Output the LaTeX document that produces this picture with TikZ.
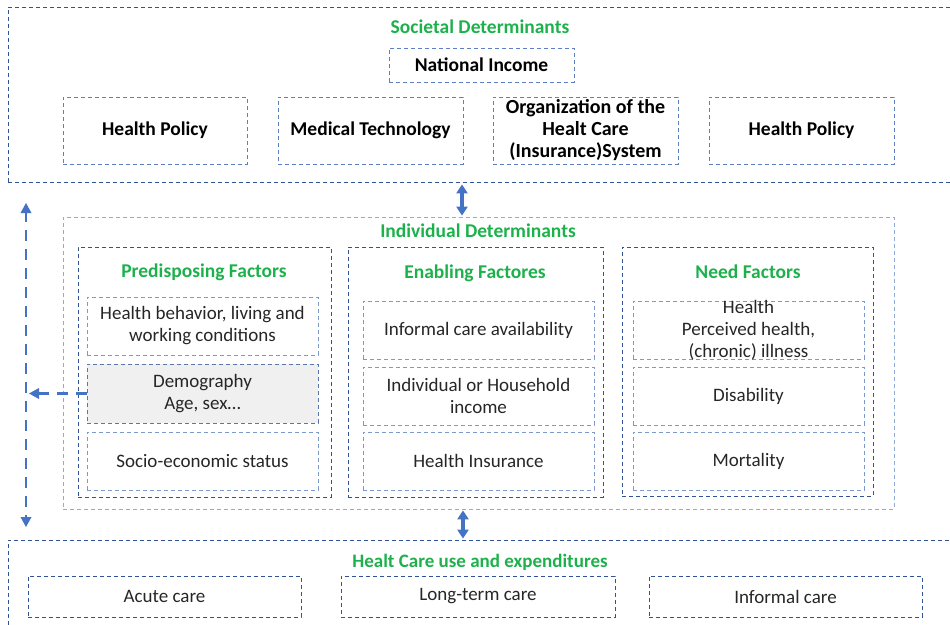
\documentclass[tikz,border=0pt]{standalone}
\usepackage{fontspec}
\setmainfont{Carlito}
\usetikzlibrary{arrows.meta}
\definecolor{dkblue}{HTML}{2F5597}
\definecolor{mdblue}{HTML}{5B7FC0}
\definecolor{ltblue}{HTML}{8FAADC}
\definecolor{arrblue}{HTML}{4472C4}
\definecolor{grn}{HTML}{1DB14B}
\definecolor{txt}{HTML}{262626}
\definecolor{demofill}{HTML}{F0F0F0}
\tikzset{
  box/.style={draw, dash pattern=on 4pt off 3pt, line width=0.8pt, inner sep=0pt, align=center, anchor=center},
  outerbox/.style={box, draw=dkblue},
  indbox/.style={box, draw=ltblue},
  subbox/.style={box, draw=dkblue},
  topbox/.style={box, draw=mdblue, font=\fontsize{19.5}{22}\selectfont\bfseries, text=black},
  itembox/.style={box, draw=mdblue!80, font=\fontsize{19}{22}\selectfont, text=txt},
  careitem/.style={box, draw=dkblue, font=\fontsize{19}{22}\selectfont, text=txt},
  title/.style={font=\fontsize{19.5}{22}\selectfont\bfseries, text=grn, inner sep=0pt},
  bigarrow/.style={draw=arrblue, line width=3.2pt, {Triangle[width=11pt,length=9pt]}-{Triangle[width=11pt,length=9pt]}},
  dasharrow/.style={draw=arrblue, line width=2.6pt, dash pattern=on 11pt off 8pt},
}
\begin{document}
\begin{tikzpicture}[x=1pt,y=-1pt]
\useasboundingbox (0,0) rectangle (950,624);
% Societal determinants
\node[outerbox, minimum width=947pt, minimum height=175pt] (soc) at (481.5,94.5) {};
\node[title] (soct) at (480,27) {Societal Determinants};
\node[topbox, minimum width=185pt, minimum height=34pt] (natinc) at (481.5,65) {National Income};
\node[topbox, minimum width=184pt, minimum height=67pt] (hp1) at (155,130.5) {Health Policy};
\node[topbox, minimum width=185pt, minimum height=67pt] (medtech) at (370.5,130.5) {Medical Technology};
\node[topbox, minimum width=185pt, minimum height=67pt, font=\fontsize{20}{22}\selectfont\bfseries] (org) at (585.5,130.5) {Organization of the\\Healt Care\\(Insurance)System};
\node[topbox, minimum width=185pt, minimum height=67pt] (hp2) at (801.5,130.5) {Health Policy};
% Individual determinants
\node[indbox, minimum width=831pt, minimum height=292pt] (ind) at (478.5,363) {};
\node[title] (indt) at (478,231) {Individual Determinants};
\node[subbox, minimum width=253pt, minimum height=250pt] (pred) at (204.5,372) {};
\node[subbox, minimum width=255pt, minimum height=250pt] (enab) at (475.5,372) {};
\node[subbox, minimum width=251pt, minimum height=249pt] (need) at (747.5,371.5) {};
\node[title] (predt) at (204,272) {Predisposing Factors};
\node[title] (enabt) at (475,273) {Enabling Factores};
\node[title] (needt) at (748,272) {Need Factors};
% Predisposing items
\node[itembox, minimum width=231pt, minimum height=58pt] (hb) at (202.5,326) {Health behavior, living and\\working conditions};
\node[itembox, draw=dkblue!80, fill=demofill, minimum width=231pt, minimum height=59pt] (demo) at (202.5,393.5) {Demography\\Age, sex\dots};
\node[itembox, minimum width=231pt, minimum height=58pt] (ses) at (202.5,461) {Socio-economic status};
% Enabling items
\node[itembox, minimum width=231pt, minimum height=58pt] (ica) at (478.5,330) {Informal care availability};
\node[itembox, minimum width=231pt, minimum height=58pt] (inc) at (478.5,396) {Individual or Household\\income};
\node[itembox, minimum width=231pt, minimum height=58pt] (hins) at (478.5,461) {Health Insurance};
% Need items
\node[itembox, minimum width=231pt, minimum height=58pt] (hlth) at (748.5,330) {};
\node[font=\fontsize{19}{22}\selectfont, text=txt, align=center, inner sep=0pt] (hlthtxt) at (748.5,330) {Health\\Perceived health,\\(chronic) illness};
\node[itembox, minimum width=231pt, minimum height=58pt] (dis) at (748.5,396) {Disability};
\node[itembox, minimum width=231pt, minimum height=58pt] (mort) at (748.5,461) {Mortality};
% Health care use
\node[outerbox, minimum width=947pt, minimum height=90pt] (hc) at (481.5,585) {};
\node[title, font=\fontsize{19}{22}\selectfont\bfseries] (hct) at (480,562) {Healt Care use and expenditures};
\node[careitem, minimum width=273pt, minimum height=41pt] (acute) at (164.5,596.5) {Acute care};
\node[careitem, minimum width=274pt, minimum height=41pt] (ltc) at (478,596.5) {Long-term care};
\node[careitem, minimum width=273pt, minimum height=41pt] (infc) at (785.5,596.5) {Informal care};
% Arrows
\coordinate (a1) at (462,0);
\coordinate (a2) at (463,0);
\draw[bigarrow] ([yshift=-2pt]soc.south -| a1) -- ([yshift=1pt]ind.north -| a1);
\draw[bigarrow] ([yshift=-1pt]ind.south -| a2) -- ([yshift=1pt]hc.north -| a2);
\coordinate (vtop) at (26,203);
\coordinate (vbot) at (26,527);
\draw[dasharrow] ([yshift=-8pt]vtop) -- ([yshift=8pt]vbot);
\fill[arrblue] (vtop) -- ++(-5.5,10) -- ++(11,0) -- cycle;
\fill[arrblue] (vbot) -- ++(-5.5,-10) -- ++(11,0) -- cycle;
\coordinate (htip) at (29,393.5);
\draw[dasharrow] (demo.west) -- ([xshift=8pt]htip);
\fill[arrblue] (htip) -- ++(10,-5.5) -- ++(0,11) -- cycle;
\end{tikzpicture}
\end{document}
